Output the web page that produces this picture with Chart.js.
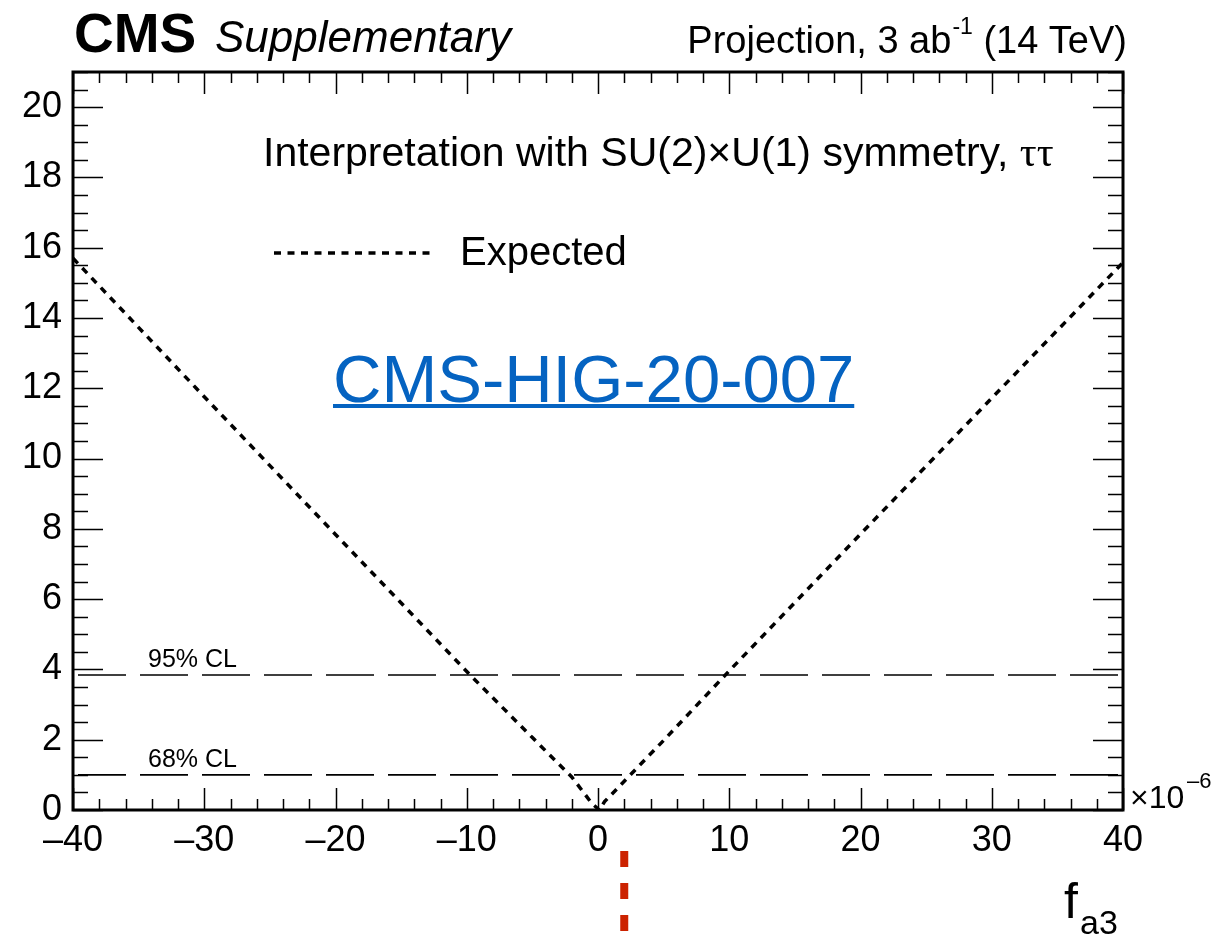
<!DOCTYPE html>
<html lang="en">
<head>
    <meta charset="UTF-8">
    <title>f_a3 likelihood scan</title>
    <style>
        body { margin: 0; background: #fff; }
        canvas { display: block; }
    </style>
</head>
<body>
    <canvas id="scan" width="1220" height="939"></canvas>

    <script src="https://cdn.jsdelivr.net/npm/chart.js"></script>
    <script>
        // f_a3 scan values (units of 1e-6) and expected -2 delta lnL
        const fa3 = [-40, -30, -20, -10, -5, -2, -1, -0.5, 0.1, 0.5, 1, 2, 5, 10, 20, 30, 40];
        const expected = [15.7, 11.76, 7.84, 3.94, 2.06, 0.94, 0.45, 0.2, 0.0, 0.24, 0.43, 0.82, 1.98, 3.96, 7.85, 11.72, 15.58];

        const xTicks = [-40, -30, -20, -10, 0, 10, 20, 30, 40];
        const yTicks = [0, 2, 4, 6, 8, 10, 12, 14, 16, 18, 20];
        const clLevels = [1.0, 3.84];
        const clNames = ['68% CL', '95% CL'];
        const markerX = 2;

        const SANS = '"Liberation Sans", Arial, Helvetica, sans-serif';
        const SERIF = '"Liberation Serif", "Times New Roman", serif';

        const points = fa3.map((x, i) => ({ x: x, y: expected[i] }));
        const clSets = clLevels.map((lvl, i) => ({
            label: clNames[i],
            data: [{ x: xTicks[0], y: lvl }, { x: xTicks[xTicks.length - 1], y: lvl }],
            borderColor: '#000',
            borderWidth: 1.6,
            borderDash: [48, 14],
            borderDashOffset: 57,
            showLine: true,
            pointRadius: 0
        }));

        function fmtTick(v) {
            return v < 0 ? '\u2013' + Math.abs(v) : String(v);
        }

        // ROOT style frame, inward ticks and all the annotation text
        const decorations = {
            id: 'decorations',
            afterDatasetsDraw(chart) {
                const ctx = chart.ctx;
                const a = chart.chartArea;
                const xs = chart.scales.x;
                const ys = chart.scales.y;
                ctx.save();
                ctx.strokeStyle = '#000';
                ctx.fillStyle = '#000';

                // minor + major ticks on all four sides
                ctx.lineWidth = 1.5;
                ctx.beginPath();
                for (let v = xs.min; v <= xs.max + 1e-9; v += 2) {
                    const p = Math.round(xs.getPixelForValue(v)) + 0.5;
                    const len = (v % 10 === 0) ? 22 : 11;
                    ctx.moveTo(p, a.bottom); ctx.lineTo(p, a.bottom - len);
                    ctx.moveTo(p, a.top); ctx.lineTo(p, a.top + len);
                }
                for (let v = 0; v <= ys.max + 1e-9; v += 0.5) {
                    const p = Math.round(ys.getPixelForValue(v)) + 0.5;
                    const len = (v % 2 === 0) ? 30 : 15;
                    ctx.moveTo(a.left, p); ctx.lineTo(a.left + len, p);
                    ctx.moveTo(a.right, p); ctx.lineTo(a.right - len, p);
                }
                ctx.stroke();

                // frame
                ctx.lineWidth = 3;
                ctx.strokeRect(a.left, a.top, a.right - a.left, a.bottom - a.top);

                // CL labels
                ctx.font = '25px ' + SANS;
                ctx.textBaseline = 'alphabetic';
                ctx.textAlign = 'left';
                clLevels.forEach((lvl, i) => {
                    ctx.fillText(clNames[i], 148, ys.getPixelForValue(lvl) - 8);
                });

                // header
                ctx.font = 'bold 55px ' + SANS;
                ctx.fillText('CMS', 74, 52);
                ctx.font = 'italic 44px ' + SANS;
                ctx.fillText('Supplementary', 215, 52);

                ctx.font = '38px ' + SANS;
                ctx.textAlign = 'right';
                const tail = ' (14 TeV)';
                let xr = 1127;
                ctx.fillText(tail, xr, 53);
                xr -= ctx.measureText(tail).width;
                ctx.font = '23px ' + SANS;
                ctx.fillText('-1', xr, 34);
                xr -= ctx.measureText('-1').width + 1;
                ctx.font = '38px ' + SANS;
                ctx.fillText('Projection, 3 ab', xr, 53);

                // interpretation line
                ctx.textAlign = 'left';
                ctx.font = '41px ' + SANS;
                const head = 'Interpretation with SU(2)\u00d7U(1) symmetry, ';
                ctx.fillText(head, 263, 166);
                const hw = ctx.measureText(head).width;
                ctx.font = '42px ' + SERIF;
                ctx.fillText('\u03c4\u03c4', 263 + hw, 166);

                // legend
                const ds = chart.data.datasets[0];
                ctx.lineWidth = ds.borderWidth;
                ctx.setLineDash(ds.borderDash);
                ctx.beginPath();
                ctx.moveTo(274, 253); ctx.lineTo(430, 253);
                ctx.stroke();
                ctx.setLineDash([]);
                ctx.font = '40px ' + SANS;
                ctx.fillText(ds.label, 460, 265);

                // reference link text
                ctx.fillStyle = '#0563c1';
                ctx.font = '67px ' + SANS;
                const ref = 'CMS-HIG-20-007';
                ctx.fillText(ref, 333, 402);
                const rw = ctx.measureText(ref).width;
                ctx.fillRect(333, 404, rw, 4);

                // axis multiplier and title
                ctx.fillStyle = '#000';
                ctx.font = '32px ' + SANS;
                ctx.fillText('\u00d710', 1130, 808);
                ctx.font = '22px ' + SANS;
                ctx.fillText('\u20136', 1187, 788);
                ctx.font = '50px ' + SANS;
                ctx.fillText('f', 1064, 918);
                ctx.font = '34px ' + SANS;
                ctx.fillText('a3', 1080, 934);

                // red dashed marker below the axis
                const mx = xs.getPixelForValue(markerX);
                ctx.strokeStyle = '#cc2200';
                ctx.lineWidth = 8;
                ctx.setLineDash([16, 16]);
                ctx.beginPath();
                ctx.moveTo(mx, 851); ctx.lineTo(mx, 931);
                ctx.stroke();
                ctx.restore();
            }
        };

        new Chart(document.getElementById('scan').getContext('2d'), {
            type: 'scatter',
            data: {
                datasets: [{
                    label: 'Expected',
                    data: points,
                    borderColor: '#000',
                    borderWidth: 3.5,
                    borderDash: [7, 6.5],
                    showLine: true,
                    tension: 0,
                    pointRadius: 0
                }].concat(clSets)
            },
            options: {
                responsive: false,
                animation: false,
                layout: { padding: { top: 72, right: 97, left: 0, bottom: 0 } },
                plugins: {
                    legend: { display: false },
                    tooltip: { enabled: false }
                },
                scales: {
                    x: {
                        type: 'linear',
                        min: -40,
                        max: 40,
                        afterBuildTicks: s => { s.ticks = xTicks.map(v => ({ value: v })); },
                        afterFit: s => { s.height = 129; },
                        grid: { display: false },
                        border: { display: false },
                        ticks: {
                            color: '#000',
                            padding: 1,
                            maxRotation: 0,
                            font: { family: SANS, size: 36 },
                            callback: v => fmtTick(v)
                        }
                    },
                    y: {
                        type: 'linear',
                        min: 0,
                        max: 21,
                        afterBuildTicks: s => { s.ticks = yTicks.map(v => ({ value: v })); },
                        afterFit: s => { s.width = 73; },
                        grid: { display: false },
                        border: { display: false },
                        ticks: {
                            color: '#000',
                            padding: 3,
                            font: { family: SANS, size: 36 },
                            callback: v => fmtTick(v)
                        }
                    }
                }
            },
            plugins: [decorations]
        });
    </script>
</body>
</html>
